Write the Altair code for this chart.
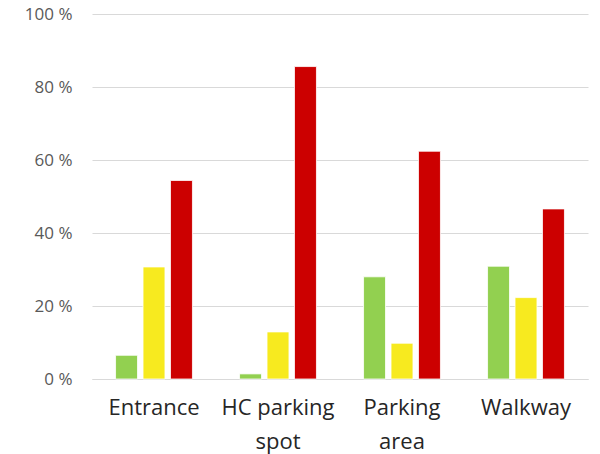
import altair as alt
import pandas as pd

categories = ["Entrance", "HC parking\nspot", "Parking\narea", "Walkway"]
series = ["Green", "Yellow", "Red"]
green_vals = [6.5, 1.4, 28.0, 30.9]
yellow_vals = [30.7, 12.9, 9.8, 22.3]
red_vals = [54.4, 85.6, 62.4, 46.6]
colors = ["#92D050", "#F7EA1F", "#CC0000"]

rows = []
for i, c in enumerate(categories):
    for s, vals in zip(series, [green_vals, yellow_vals, red_vals]):
        rows.append({"category": c, "series": s, "value": vals[i]})
df = pd.DataFrame(rows)

font = "Open Sans"

chart = alt.Chart(df).mark_bar(stroke="white", strokeWidth=0.8).encode(
    x=alt.X("category:N", sort=categories,
            scale=alt.Scale(paddingInner=0.38, paddingOuter=0.19),
            axis=alt.Axis(title=None, labelAngle=0, ticks=False, domain=True, grid=False,
                          domainColor="#D9D9D9", domainWidth=1,
                          labelExpr="split(datum.label, '\\n')",
                          labelFont=font, labelFontSize=22, labelColor="#262626",
                          labelPadding=18, labelLineHeight=34, labelBaseline="top")),
    xOffset=alt.XOffset("series:N", sort=series,
                        scale=alt.Scale(paddingInner=0.2, paddingOuter=0)),
    y=alt.Y("value:Q", scale=alt.Scale(domain=[0, 100], nice=False),
            axis=alt.Axis(title=None, values=[0, 20, 40, 60, 80, 100],
                          labelExpr="datum.value + ' %'", ticks=False, domain=False,
                          grid=True, gridColor="#D9D9D9", gridWidth=1,
                          labelFont=font, labelFontSize=17, labelColor="#595959",
                          labelPadding=20)),
    color=alt.Color("series:N", sort=series,
                    scale=alt.Scale(domain=series, range=colors), legend=None),
).properties(
    width=496, height=365,
    autosize=alt.AutoSizeParams(type="none"),
    padding={"left": 92, "top": 14, "right": 12, "bottom": 75},
).configure(background="white").configure_view(stroke=None)

chart.save("out.html", embed_options={"renderer": "svg", "actions": False})
